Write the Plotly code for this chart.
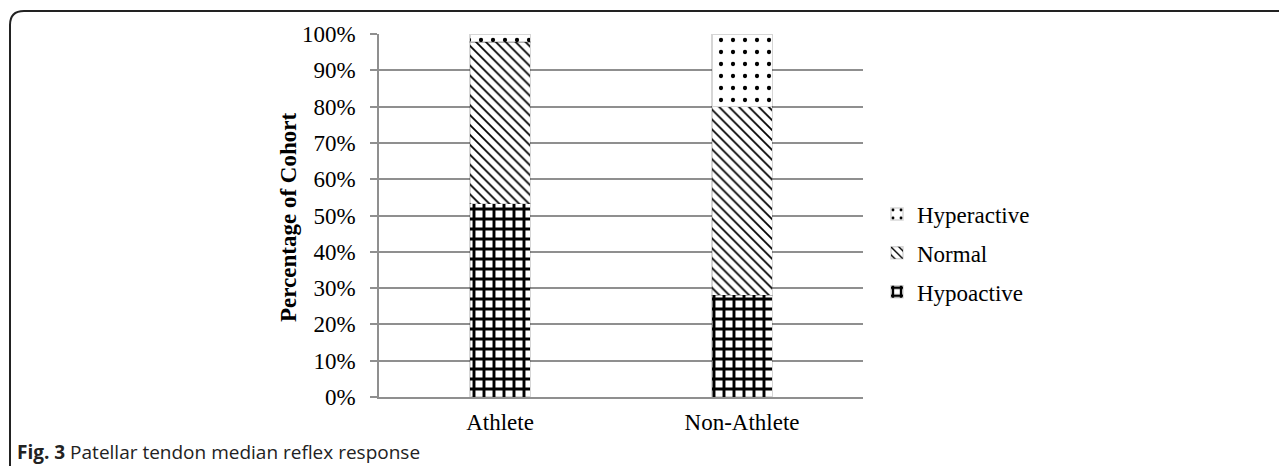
import plotly.graph_objects as go

categories = ["Athlete", "Non-Athlete"]
hypoactive = [53.3, 28.0]
normal = [44.5, 52.0]
hyperactive = [2.2, 20.0]
y_ticks = [0, 10, 20, 30, 40, 50, 60, 70, 80, 90, 100]
y_ticklabels = [f"{v}%" for v in y_ticks]

O = 8  # page body margin
W, H = 1287 - 2 * O, 474 - 2 * O
L, R, T, B = 379 - O, 863 - O, 34 - O, 397 - O
SERIF = "Liberation Serif"

def px(x):
    return (x - O - L) / (R - L)

def py(y):
    return (B - (y - O)) / (B - T)

fig = go.Figure()
bar_line = dict(color="rgba(0,0,0,0.16)", width=1.5)
fig.add_trace(go.Bar(
    name="Hypoactive", x=categories, y=hypoactive, legendgroup="a", legendrank=3,
    marker=dict(color="white", line=bar_line,
                pattern=dict(shape="+", size=10, solidity=0.5, fgcolor="black", bgcolor="white", fillmode="replace")),
))
fig.add_trace(go.Bar(
    name="Normal", x=categories, y=normal, legendgroup="b", legendrank=2,
    marker=dict(color="white", line=bar_line,
                pattern=dict(shape="\\", size=7, solidity=0.25, fgcolor="black", bgcolor="white", fillmode="replace")),
))
fig.add_trace(go.Bar(
    name="Hyperactive", x=categories, y=hyperactive, legendgroup="c", legendrank=1,
    marker=dict(color="white", line=bar_line,
                pattern=dict(shape=".", size=12, solidity=0.1, fgcolor="black", bgcolor="white", fillmode="replace")),
))

grid = "#8f8f8f"
fig.update_layout(
    width=W, height=H, autosize=False,
    barmode="stack", bargap=0.75,
    paper_bgcolor="white", plot_bgcolor="white",
    margin=dict(l=L, r=W - R, t=T, b=H - B, pad=0),
    font=dict(family=SERIF, size=23, color="black"),
    showlegend=True,
    legend=dict(x=px(877), y=py(253), xanchor="left", yanchor="middle",
                traceorder="grouped", font=dict(family=SERIF, size=23),
                itemwidth=30, tracegroupgap=6, bgcolor="rgba(0,0,0,0)"),
    xaxis=dict(showgrid=False, showline=True, linecolor=grid, linewidth=1.5,
               ticks="outside", ticklen=4, tickcolor="rgba(0,0,0,0)",
               tickfont=dict(family=SERIF, size=23)),
    yaxis=dict(range=[0, 100], tickvals=y_ticks, ticktext=y_ticklabels,
               showgrid=True, gridcolor=grid, gridwidth=1.5,
               showline=True, linecolor=grid, linewidth=1.5,
               ticks="outside", ticklen=7, tickcolor=grid, tickwidth=1.5,
               ticklabelstandoff=10,
               tickfont=dict(family=SERIF, size=23), zeroline=False),
)

fig.add_annotation(text="<b>Percentage of Cohort</b>", xref="paper", yref="paper",
                   x=px(288), y=py(218), textangle=-90, showarrow=False,
                   xanchor="center", yanchor="middle",
                   font=dict(family=SERIF, size=23, color="black"))
fig.add_annotation(text="<b>Fig. 3</b> Patellar tendon median reflex response",
                   xref="paper", yref="paper", x=px(15), y=py(452),
                   xanchor="left", yanchor="middle", showarrow=False,
                   font=dict(family="Open Sans", size=19, color="#222222"))

# rounded outer frame (top-left corner visible, right and bottom open)
x0, y0, x1, y1 = px(10), py(11), px(1300), py(490)
rx, ry = 14 / (R - L), 14 / (B - T)
fig.add_shape(type="path", xref="paper", yref="paper",
              path=f"M {x0},{y1} L {x0},{y0 - ry} Q {x0},{y0} {x0 + rx},{y0} L {x1},{y0}",
              line=dict(color="#222222", width=2))

fig.write_html("out.html")
